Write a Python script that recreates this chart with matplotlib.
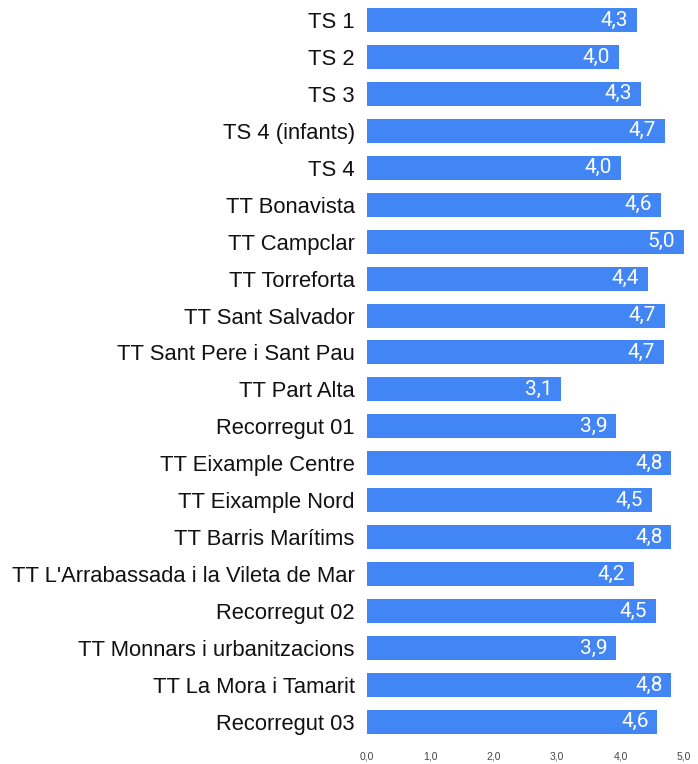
import matplotlib.pyplot as plt
import numpy as np

# dades
categories = ['TS 1', 'TS 2', 'TS 3', 'TS 4 (infants)', 'TS 4', 'TT Bonavista',
              'TT Campclar', 'TT Torreforta', 'TT Sant Salvador',
              'TT Sant Pere i Sant Pau', 'TT Part Alta', 'Recorregut 01',
              'TT Eixample Centre', 'TT Eixample Nord', 'TT Barris Marítims',
              "TT L'Arrabassada i la Vileta de Mar", 'Recorregut 02',
              'TT Monnars i urbanitzacions', 'TT La Mora i Tamarit', 'Recorregut 03']
values = [4.26, 3.97, 4.32, 4.70, 4.00, 4.63, 5.00, 4.43, 4.70, 4.68,
          3.06, 3.93, 4.80, 4.50, 4.80, 4.21, 4.55, 3.93, 4.80, 4.58]
xticks = [0, 1, 2, 3, 4, 5]

fig = plt.figure(figsize=(6.98, 7.64), dpi=100)
ax = fig.add_axes([0.526, 0.031, 0.454, 0.967])

y = np.arange(len(categories))
ax.barh(y, values, height=0.65, color='#4285F4')
ax.set_ylim(len(categories) - 0.5, -0.5)
ax.set_xlim(0, 5)

ax.set_yticks(y)
ax.set_yticklabels(categories, fontsize=15.8, family='Liberation Sans', color='#111111')
ax.set_xticks(xticks)
ax.set_xticklabels([f'{t:.1f}'.replace('.', ',') for t in xticks], fontsize=7.5,
                   family='Liberation Sans', color='#444444')
ax.tick_params(axis='both', length=0)
ax.tick_params(axis='y', pad=9)
ax.tick_params(axis='x', pad=8)
for s in ax.spines.values():
    s.set_visible(False)

# etiquetes de valor dins la barra
for yi, v in zip(y, values):
    ax.text(v - 0.14, yi, f'{v:.1f}'.replace('.', ','), ha='right', va='center',
            color='white', fontsize=15, family='Roboto')

plt.savefig('out.png', dpi=100)
